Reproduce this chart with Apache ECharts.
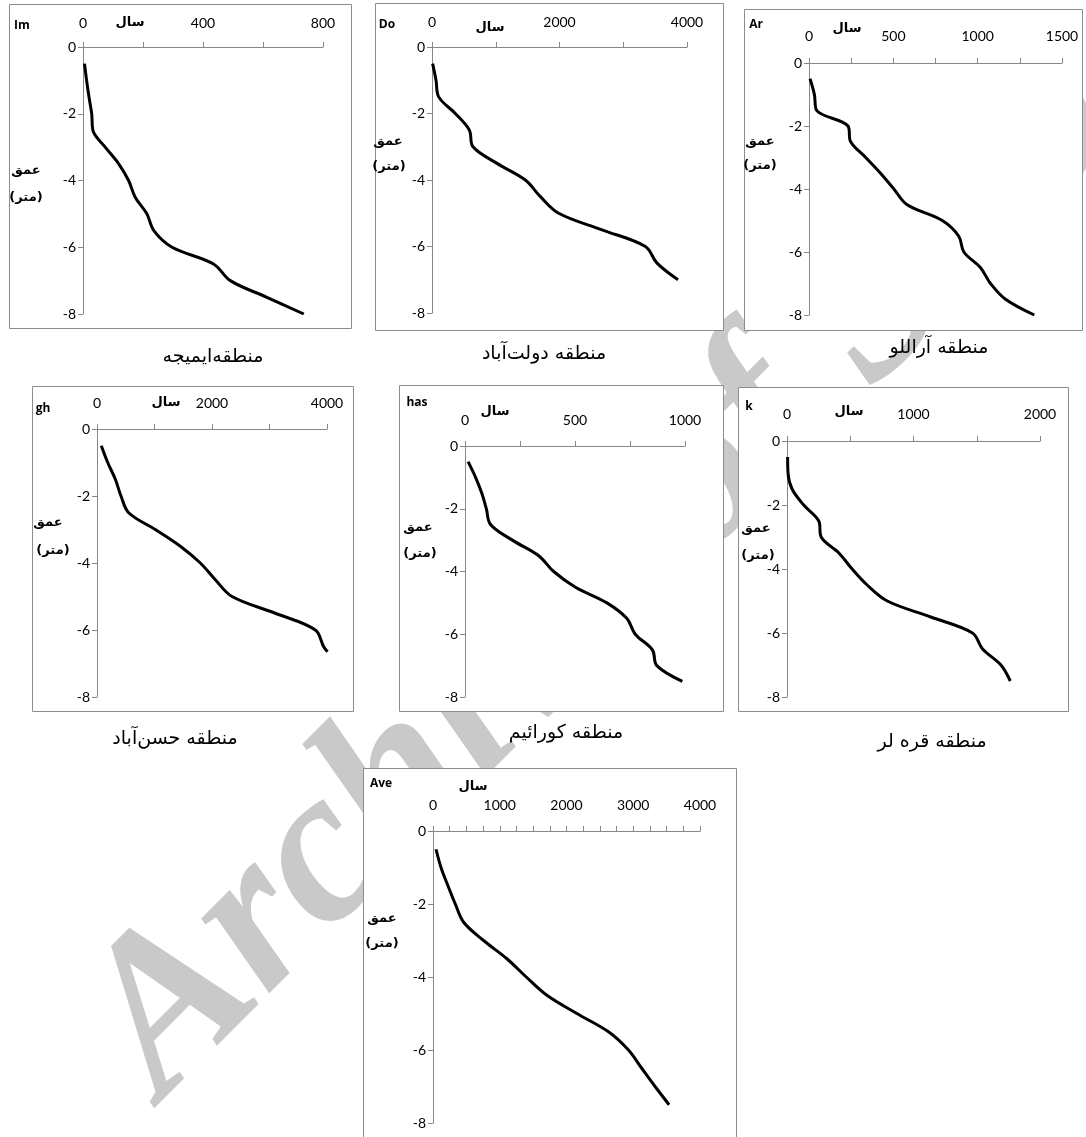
<!DOCTYPE html>
<html>
<head>
<meta charset="utf-8">
<script src="https://cdn.jsdelivr.net/npm/echarts@6/dist/echarts.min.js"></script>
<style>
html,body{margin:0;padding:0;background:#fff;}
#chart{width:1086px;height:1137px;}
</style>
</head>
<body>
<div id="chart"></div>
<script>
// ---- data (years vs depth in metres) ----
const depthTicks = [0, -2, -4, -6, -8];

const imYears = [5, 12, 20, 29, 33, 74, 119, 152, 174, 213, 236, 297, 435, 491, 613, 736];
const imDepth = [-0.5, -1, -1.5, -2, -2.5, -3, -3.5, -4, -4.5, -5, -5.5, -6, -6.5, -7, -7.5, -8];

const doYears = [10, 63, 105, 366, 586, 643, 1020, 1464, 1700, 1987, 2667, 3347, 3530, 3859];
const doDepth = [-0.5, -1, -1.5, -2, -2.5, -3, -3.5, -4, -4.5, -5, -5.5, -6, -6.5, -7];

const arYears = [6, 32, 45, 231, 247, 336, 424, 503, 582, 790, 888, 918, 1017, 1076, 1165, 1336];
const arDepth = [-0.5, -1, -1.5, -2, -2.5, -3, -3.5, -4, -4.5, -5, -5.5, -6, -6.5, -7, -7.5, -8];

const ghYears = [75, 186, 319, 417, 551, 1014, 1449, 1797, 2058, 2348, 3101, 3797, 3942, 4010];
const ghDepth = [-0.5, -1, -1.5, -2, -2.5, -3, -3.5, -4, -4.5, -5, -5.5, -6, -6.5, -6.65];

const hasYears = [14, 48, 76, 97, 116, 215, 335, 403, 502, 645, 736, 774, 852, 872, 988];
const hasDepth = [-0.5, -1, -1.5, -2, -2.5, -3, -3.5, -4, -4.5, -5, -5.5, -6, -6.5, -7, -7.5];

const kYears = [5, 8, 40, 132, 251, 270, 410, 515, 634, 793, 1136, 1466, 1546, 1691, 1765];
const kDepth = [-0.5, -1, -1.5, -2, -2.5, -3, -3.5, -4, -4.5, -5, -5.5, -6, -6.5, -7, -7.5];

const aveYears = [45, 120, 224, 334, 459, 758, 1107, 1397, 1706, 2155, 2629, 2928, 3127, 3327, 3537];
const aveDepth = [-0.5, -1, -1.5, -2, -2.5, -3, -3.5, -4, -4.5, -5, -5.5, -6, -6.5, -7, -7.5];

const panelCodes = ['Im', 'Do', 'Ar', 'gh', 'has', 'k', 'Ave'];
const panelNames = ['منطقه‌ایمیجه', 'منطقه دولت‌آباد', 'منطقه آراللو', 'منطقه حسن‌آباد', 'منطقه کورائیم', 'منطقه قره لر', ''];
const yearMax = [800, 4000, 1500, 4000, 1000, 2000, 4000];
const yearTickStep = [200, 1000, 250, 1000, 250, 500, 250];
const yearLabelStep = [400, 2000, 500, 2000, 500, 1000, 1000];
const xLabel = 'سال';
const yLabel1 = 'عمق';
const yLabel2 = '(متر)';
const watermarkText = 'Archive of SID';

// ---- layout (pixels) ----
const layout = [
  {x0: 83,  x1: 323,  y0: 47,  y1: 314, box: [9, 4, 351, 328],   m: 17, code: [22, 26],  sal: [130, 23],  y1t: [26, 171], y2t: [26, 198], cap: [213, 357]},
  {x0: 432, x1: 687,  y0: 47,  y1: 313, box: [375, 3, 723, 330], m: 18, code: [387, 25], sal: [490, 28],  y1t: [388, 142], y2t: [389, 167], cap: [544, 354]},
  {x0: 809, x1: 1062, y0: 63,  y1: 315, box: [744, 9, 1082, 330], m: 20, code: [756, 25], sal: [847, 29],  y1t: [760, 142], y2t: [760, 166], cap: [939, 348]},
  {x0: 97,  x1: 327,  y0: 429, y1: 697, box: [32, 386, 353, 711], m: 19, code: [43, 409], sal: [166, 403], y1t: [48, 523], y2t: [53, 551], cap: [175, 739]},
  {x0: 465, x1: 685,  y0: 446, y1: 697, box: [399, 385, 723, 711], m: 19, code: [417, 403], sal: [495, 412], y1t: [418, 528], y2t: [420, 554], cap: [566, 733]},
  {x0: 787, x1: 1040, y0: 441, y1: 697, box: [738, 387, 1068, 711], m: 20, code: [749, 407], sal: [849, 412], y1t: [756, 529], y2t: [758, 556], cap: [932, 742]},
  {x0: 433, x1: 700,  y0: 831, y1: 1123, box: [363, 768, 736, 1160], m: 19, code: [381, 784], sal: [473, 787], y1t: [382, 919], y2t: [382, 944], cap: null}
];

const seriesX = [imYears, doYears, arYears, ghYears, hasYears, kYears, aveYears];
const seriesY = [imDepth, doDepth, arDepth, ghDepth, hasDepth, kDepth, aveDepth];

const axisGray = '#868686';
const numFont = 'Lato';
const arFont = 'DejaVu Sans';

const grids = [], xAxes = [], yAxes = [], series = [], graphics = [];

// watermark (behind the white chart boxes)
graphics.push({
  type: 'text', x: 122, y: 1060, rotation: Math.PI / 4, z: -10, silent: true,
  style: {text: watermarkText, font: 'italic bold 220px "Liberation Serif"', fill: '#c9c9c9', align: 'left', verticalAlign: 'middle'}
});

layout.forEach((L, i) => {
  grids.push({left: L.x0, top: L.y0, width: L.x1 - L.x0, height: L.y1 - L.y0, containLabel: false});
  const lab = yearLabelStep[i];
  xAxes.push({
    type: 'value', gridIndex: i, position: 'top', min: 0, max: yearMax[i], interval: yearTickStep[i],
    axisLine: {show: true, onZero: false, lineStyle: {color: axisGray, width: 1}},
    axisTick: {show: true, length: 5, lineStyle: {color: axisGray}},
    splitLine: {show: false},
    axisLabel: {margin: L.m, color: '#000', fontFamily: numFont, fontSize: 14,
      formatter: v => (Math.round(v) % lab === 0 ? String(v) : '')}
  });
  yAxes.push({
    type: 'value', gridIndex: i, min: -8, max: 0, interval: 2,
    axisLine: {show: true, onZero: false, lineStyle: {color: axisGray, width: 1}},
    axisTick: {show: true, length: 5, lineStyle: {color: axisGray}},
    splitLine: {show: false},
    axisLabel: {margin: 7, color: '#000', fontFamily: numFont, fontSize: 14,
      formatter: v => (depthTicks.indexOf(v) >= 0 ? String(v) : '')}
  });
  series.push({
    type: 'line', xAxisIndex: i, yAxisIndex: i, showSymbol: false, smooth: 0.35,
    lineStyle: {color: '#000', width: 3}, data: seriesX[i].map((x, j) => [x, seriesY[i][j]]),
    silent: true, animation: false
  });
  const b = L.box;
  graphics.push({type: 'rect', z: -5, silent: true, shape: {x: b[0] + 0.5, y: b[1] + 0.5, width: b[2] - b[0], height: b[3] - b[1]},
    style: {fill: '#fff', stroke: '#8c8c8c', lineWidth: 1}});
  graphics.push({type: 'text', z: 10, x: L.code[0], y: L.code[1], style: {text: panelCodes[i], font: 'bold 12px "Open Sans"', fill: '#000', align: 'center', verticalAlign: 'middle'}});
  graphics.push({type: 'text', z: 10, x: L.sal[0], y: L.sal[1], style: {text: xLabel, font: 'bold 13px "' + arFont + '"', fill: '#000', align: 'center', verticalAlign: 'middle'}});
  graphics.push({type: 'text', z: 10, x: L.y1t[0], y: L.y1t[1], style: {text: yLabel1, font: 'bold 13px "' + arFont + '"', fill: '#000', align: 'center', verticalAlign: 'middle'}});
  graphics.push({type: 'text', z: 10, x: L.y2t[0], y: L.y2t[1], style: {text: yLabel2, font: 'bold 13px "' + arFont + '"', fill: '#000', align: 'center', verticalAlign: 'middle'}});
  if (L.cap) {
    graphics.push({type: 'text', z: 10, x: L.cap[0], y: L.cap[1], style: {text: panelNames[i], font: '19px "' + arFont + '"', fill: '#000', align: 'center', verticalAlign: 'middle'}});
  }
});

const chart = echarts.init(document.getElementById('chart'), null, {renderer: 'canvas'});
chart.setOption({
  animation: false,
  backgroundColor: '#fff',
  grid: grids, xAxis: xAxes, yAxis: yAxes, series: series,
  graphic: {elements: graphics}
});
</script>
</body>
</html>
